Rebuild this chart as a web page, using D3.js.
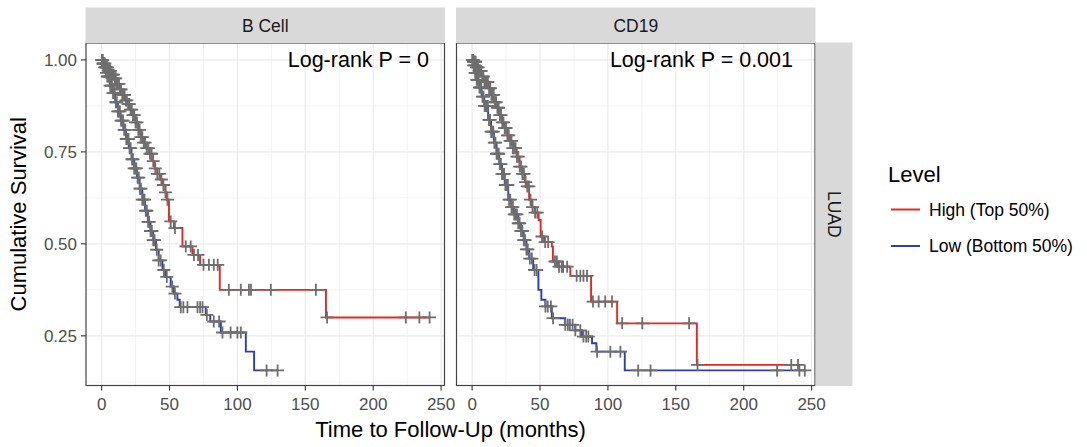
<!DOCTYPE html>
<html>
<head>
<meta charset="utf-8">
<script src="https://cdn.jsdelivr.net/npm/d3@7"></script>
<style>
  body { margin: 0; background: #fff; }
  text { font-family: "Liberation Sans", Arial, Helvetica, sans-serif; }
</style>
</head>
<body>
<svg id="chart" width="1087" height="447"></svg>
<script>
// ---- data ----
const panels = ['B Cell', 'CD19'];
const pLabels = ['Log-rank P = 0', 'Log-rank P = 0.001'];
const rowLabel = 'LUAD';
const levels = ['High (Top 50%)', 'Low (Bottom 50%)'];
const levelColors = ['#e8271f', '#2f3db3'];
const xTicks = [0, 50, 100, 150, 200, 250];
const yTicks = [0.25, 0.50, 0.75, 1.00];

// survival steps [time, survival after the drop]
const bcellHigh = [[1,0.99],[3,0.98],[5,0.97],[7,0.96],[9,0.95],[11,0.935],[13,0.92],[15,0.905],[17,0.89],[19,0.88],
  [21,0.865],[23,0.85],[25,0.83],[27,0.81],[29,0.79],[31,0.775],[33,0.76],[35,0.745],[37,0.725],[39,0.705],
  [41,0.69],[43,0.675],[45,0.66],[47,0.64],[48,0.62],[49.6,0.561],[53.3,0.543],[59.5,0.493],[66.9,0.47],
  [72.5,0.443],[87,0.375],[165.2,0.30]];
const bcellLow = [[1,0.99],[2,0.98],[3,0.965],[4,0.955],[6,0.93],[8,0.91],[10,0.885],[12,0.86],[14,0.835],[16,0.81],
  [18,0.785],[20,0.76],[22,0.73],[24,0.705],[26,0.68],[28,0.65],[30,0.62],[32,0.59],[34,0.56],[36,0.535],
  [38,0.51],[40,0.484],[42,0.455],[44.8,0.429],[47,0.41],[50.9,0.384],[53,0.365],[55.8,0.348],[57.5,0.328],
  [76.7,0.307],[80,0.289],[87.8,0.259],[106.2,0.207],[112.3,0.156]];
const cd19High = [[1,0.995],[3,0.98],[5,0.97],[7,0.955],[9,0.94],[11.7,0.923],[14,0.905],[16,0.885],[18,0.87],[20,0.85],
  [22,0.83],[24,0.815],[26,0.795],[28,0.78],[30,0.76],[32.8,0.737],[35,0.71],[37,0.69],[39,0.668],[40.2,0.656],
  [42,0.62],[44,0.6],[46,0.585],[49,0.565],[50.5,0.52],[53,0.505],[58.7,0.493],[59.5,0.452],[63,0.438],
  [72.3,0.413],[87.6,0.343],[106.8,0.284],[165.5,0.171]];
const cd19Low = [[1,0.985],[2,0.965],[3.2,0.946],[5,0.925],[7,0.9],[9,0.875],[11.8,0.837],[14,0.805],[16,0.775],[18,0.745],
  [20,0.717],[22,0.69],[24,0.66],[26.6,0.62],[29,0.6],[31,0.58],[34,0.556],[36,0.535],[38,0.51],[40,0.485],
  [42,0.46],[45,0.429],[48.8,0.375],[51,0.348],[54,0.33],[58.7,0.298],[68.6,0.28],[76,0.265],[80.9,0.248],
  [88.3,0.23],[91.5,0.207],[112.4,0.156]];

// censoring times (months)
const bcellHighCensor = [0.2,0.6,1,1.4,1.9,2.4,3,3.6,4.3,5,5.8,6.5,7.2,8,8.8,9.6,10.4,11.2,12,12.8,13.6,14.4,15.2,16,
  16.9,17.8,18.6,19.5,20.4,21.3,22.2,23.1,24,25,26,27,28,29,30,31,32,33.2,34.4,35.6,36.8,38,39.5,41,42.5,44,45.5,
  47,48.5,50.9,54,62,65.6,68,71,75,79,82.6,85.5,93.7,102.5,108.5,110,124.6,157.8,166,224,234,241.5];
const bcellLowCensor = [0.3,0.8,1.2,1.7,2.3,2.8,3.5,4.2,5,5.6,6.3,7,7.6,8.4,9,9.7,10.5,11.2,12,12.8,13.5,14.3,15,15.8,
  16.6,17.4,18.2,19,19.8,20.6,21.4,22.3,23.1,24,24.8,25.6,26.5,27.4,28.2,29,30,30.8,31.6,32.5,33.3,34.2,35,36,37,
  38,39,40.6,42,43.5,45.8,48,52,54,58.3,60.2,63.2,70.6,72.5,74.3,77.5,82.6,86.5,89,95,100,102.5,121.5,129.6];
const cd19HighCensor = [0.2,0.6,1,1.5,2,2.6,3.2,3.8,4.5,5.2,6,6.7,7.5,8.3,9.1,10,10.8,11.6,12.5,13.4,14.2,15,15.9,16.8,
  17.7,18.6,19.5,20.4,21.3,22.2,23.1,24,25,26,27,28,29,30,31,32,33,34,35,36,37,38.2,39.4,40.6,41.8,43,44.5,46.4,
  48,51.5,53.8,56,61,62.4,64,66,67,70,77,79.7,82,84.6,89,93.2,98,103,110.5,125.3,159.8,166,235,240];
const cd19LowCensor = [0.3,0.7,1.2,1.7,2.2,2.8,3.4,4,4.7,5.4,6.1,6.8,7.6,8.4,9.2,10,10.8,11.6,12.4,13.2,14,14.8,15.6,
  16.4,17.2,18,18.8,19.6,20.4,21.2,22,22.8,23.6,24.5,25.4,26.3,27.2,28.1,29,30,31,32,33,34,35,36,37,38,39,40,41,
  42.5,44,46,47.5,54,55.7,58,59.6,68.6,70.5,72,74,76,79.7,82,84,85.6,92,101.8,109.2,122.3,131.4,224.6,241,245];

const panelCurves = [
  [{ steps: bcellHigh, censor: bcellHighCensor }, { steps: bcellLow, censor: bcellLowCensor }],
  [{ steps: cd19High, censor: cd19HighCensor }, { steps: cd19Low, censor: cd19LowCensor }],
];

// ---- layout ----
const svg = d3.select('#chart');
const panelX = [[86, 444.5], [456.5, 815]];
const panelTop = 43, panelBottom = 385.5, stripTop = 7.5;
const gridColor = '#ebebeb';
const censorColor = '#6e6e6e';

const y = d3.scaleLinear().domain([0.115, 1.046]).range([panelBottom, panelTop]);
const yMinor = [0.125, 0.375, 0.625, 0.875];
const xMinor = [25, 75, 125, 175, 225];

function survAt(steps, t) {
  let s = 1;
  for (const [ti, si] of steps) { if (ti <= t) s = si; else break; }
  return s;
}

panels.forEach((name, i) => {
  const [x0, x1] = panelX[i];
  const x = d3.scaleLinear().domain([-11.5, 252.5]).range([x0, x1]);
  const g = svg.append('g');

  // panel background + grid
  g.append('rect').attr('x', x0).attr('y', panelTop).attr('width', x1 - x0).attr('height', panelBottom - panelTop)
    .attr('fill', '#fff');
  g.selectAll('line.xminor').data(xMinor).join('line')
    .attr('x1', d => x(d)).attr('x2', d => x(d)).attr('y1', panelTop).attr('y2', panelBottom)
    .attr('stroke', gridColor).attr('stroke-width', 0.6);
  g.selectAll('line.yminor').data(yMinor).join('line')
    .attr('x1', x0).attr('x2', x1).attr('y1', d => y(d)).attr('y2', d => y(d))
    .attr('stroke', gridColor).attr('stroke-width', 0.6);
  g.selectAll('line.xmajor').data(xTicks).join('line')
    .attr('x1', d => x(d)).attr('x2', d => x(d)).attr('y1', panelTop).attr('y2', panelBottom)
    .attr('stroke', gridColor).attr('stroke-width', 1.2);
  g.selectAll('line.ymajor').data(yTicks).join('line')
    .attr('x1', x0).attr('x2', x1).attr('y1', d => y(d)).attr('y2', d => y(d))
    .attr('stroke', gridColor).attr('stroke-width', 1.2);

  // KM curves
  const line = d3.line().x(d => x(d[0])).y(d => y(d[1])).curve(d3.curveStepAfter);
  panelCurves[i].forEach((c, k) => {
    const tEnd = d3.max(c.censor);
    const pts = [[0, 1], ...c.steps, [tEnd, c.steps[c.steps.length - 1][1]]];
    g.append('path').attr('d', line(pts)).attr('fill', 'none')
      .attr('stroke', levelColors[k]).attr('stroke-width', 1.9);
  });

  // censor marks
  panelCurves[i].forEach(c => {
    g.selectAll(null).data(c.censor).join('path')
      .attr('d', t => {
        const cx = x(t), cy = y(survAt(c.steps, t));
        return `M${cx - 6.5},${cy}H${cx + 6.5}M${cx},${cy - 6}V${cy + 6}`;
      })
      .attr('stroke', censorColor).attr('stroke-width', 1.8).attr('fill', 'none');
  });

  // border
  g.append('rect').attr('x', x0).attr('y', panelTop).attr('width', x1 - x0).attr('height', panelBottom - panelTop)
    .attr('fill', 'none').attr('stroke', '#444').attr('stroke-width', 1.2);

  // strip
  g.append('rect').attr('x', x0 - 0.5).attr('y', stripTop).attr('width', x1 - x0 + 1).attr('height', panelTop - stripTop)
    .attr('fill', '#d9d9d9');
  g.append('text').attr('x', (x0 + x1) / 2).attr('y', 31.5).attr('text-anchor', 'middle')
    .attr('font-size', 17.5).attr('fill', '#1a1a1a').text(name);

  // log-rank label
  g.append('text').attr('x', i === 0 ? 429 : 793).attr('y', 67).attr('text-anchor', 'end')
    .attr('font-size', 21.5).attr('fill', '#000').text(pLabels[i]);

  // x axis
  g.selectAll('line.xtick').data(xTicks).join('line')
    .attr('x1', d => x(d)).attr('x2', d => x(d)).attr('y1', panelBottom).attr('y2', panelBottom + 5)
    .attr('stroke', '#333').attr('stroke-width', 1.1);
  g.selectAll('text.xtick').data(xTicks).join('text')
    .attr('x', d => x(d)).attr('y', 410).attr('text-anchor', 'middle')
    .attr('font-size', 17).attr('fill', '#4d4d4d').text(d => d);

  if (i === 0) {
    g.selectAll('line.ytick').data(yTicks).join('line')
      .attr('x1', x0 - 5).attr('x2', x0).attr('y1', d => y(d)).attr('y2', d => y(d))
      .attr('stroke', '#333').attr('stroke-width', 1.1);
    g.selectAll('text.ytick').data(yTicks).join('text')
      .attr('x', x0 - 9).attr('y', d => y(d)).attr('dy', '0.35em').attr('text-anchor', 'end')
      .attr('font-size', 17).attr('fill', '#4d4d4d').text(d => d3.format('.2f')(d));
  }
});

// right strip
svg.append('rect').attr('x', 815.5).attr('y', panelTop - 0.5).attr('width', 37).attr('height', panelBottom - panelTop + 1)
  .attr('fill', '#d9d9d9');
svg.append('text').attr('transform', `translate(834,${(panelTop + panelBottom) / 2}) rotate(90)`)
  .attr('text-anchor', 'middle').attr('dy', '0.35em').attr('font-size', 17.5).attr('fill', '#1a1a1a').text(rowLabel);

// axis titles
svg.append('text').attr('x', (panelX[0][0] + panelX[1][1]) / 2).attr('y', 437).attr('text-anchor', 'middle')
  .attr('font-size', 22).attr('fill', '#000').text('Time to Follow-Up (months)');
svg.append('text').attr('transform', `translate(26,${(panelTop + panelBottom) / 2}) rotate(-90)`)
  .attr('text-anchor', 'middle').attr('font-size', 22).attr('fill', '#000').text('Cumulative Survival');

// legend
const legend = svg.append('g');
legend.append('text').attr('x', 888).attr('y', 182).attr('font-size', 22).attr('fill', '#000').text('Level');
levels.forEach((lab, k) => {
  const ky = 209.5 + k * 36.5;
  legend.append('line').attr('x1', 891).attr('x2', 920).attr('y1', ky).attr('y2', ky)
    .attr('stroke', levelColors[k]).attr('stroke-width', 2);
  legend.append('text').attr('x', 929).attr('y', ky).attr('dy', '0.35em')
    .attr('font-size', 17.5).attr('fill', '#000').text(lab);
});
</script>
</body>
</html>
